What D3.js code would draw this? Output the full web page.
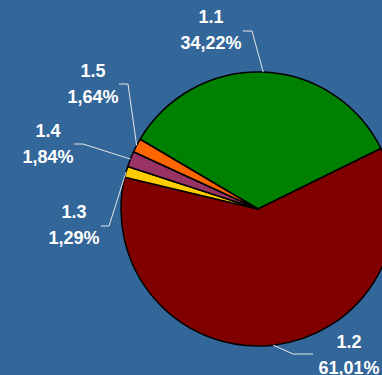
<!DOCTYPE html>
<html>
<head>
<meta charset="utf-8">
<script src="https://cdn.jsdelivr.net/npm/d3@7"></script>
<style>
  html, body { margin: 0; padding: 0; background: #336699; }
  svg { display: block; }
</style>
</head>
<body>
<svg id="chart" width="382" height="375"></svg>
<script>
// ---- data ----
const categories = ["1.1", "1.2", "1.3", "1.4", "1.5"];
const values = [34.22, 61.01, 1.29, 1.84, 1.64];
const colors = ["#008000", "#800000", "#FFCC00", "#993366", "#FF6600"];

// ---- layout (positions of labels and leader elbows) ----
const W = 382, H = 375;
const cx = 258, cy = 209, R = 137;
const startDeg = -59.4;
// label anchor: text center x, first-line baseline y; leader: label-side points
const labelLayout = [
  { x: 211, y: 23,  leader: [[243, 31], [252, 31]] },
  { x: 349, y: 348, leader: [[313, 354], [293, 354]] },
  { x: 74,  y: 218, leader: [[101, 226], [109, 226]] },
  { x: 48,  y: 137, leader: [[74, 144], [83, 144]] },
  { x: 93,  y: 77,  leader: [[119, 84], [128, 84]] }
];
const lineGap = 26;

const svg = d3.select("#chart");
svg.append("rect").attr("width", W).attr("height", H).attr("fill", "#336699");

const start = startDeg * Math.PI / 180;
const pie = d3.pie().sort(null).value(d => d.v)
  .startAngle(start).endAngle(start + 2 * Math.PI);
const data = categories.map((c, i) => ({ c, v: values[i], col: colors[i], i }));
const arcs = pie(data);

const arc = d3.arc().innerRadius(0).outerRadius(R);
const edge = d3.arc().innerRadius(R).outerRadius(R);

const g = svg.append("g").attr("transform", `translate(${cx},${cy})`);
g.selectAll("path.slice").data(arcs).join("path")
  .attr("class", "slice")
  .attr("d", arc)
  .attr("fill", d => d.data.col)
  .attr("stroke", "#000")
  .attr("stroke-width", 1.5)
  .attr("stroke-linejoin", "round");

const fmt = d3.formatLocale({ decimal: ",", thousands: ".", grouping: [3], currency: ["", "€"] }).format(".2f");

// leader lines
const line = d3.line();
svg.selectAll("path.leader").data(arcs).join("path")
  .attr("class", "leader")
  .attr("d", d => {
    const mid = (d.startAngle + d.endAngle) / 2;
    const p = [cx + R * Math.sin(mid), cy - R * Math.cos(mid)];
    const pts = labelLayout[d.data.i].leader.concat([p]);
    return line(pts);
  })
  .attr("fill", "none")
  .attr("stroke", "#E6E6E6")
  .attr("stroke-width", 1);

// labels
const lab = svg.selectAll("text.lab").data(arcs).join("text")
  .attr("class", "lab")
  .attr("text-anchor", "middle")
  .attr("font-family", "'Liberation Sans', Arial, sans-serif")
  .attr("font-weight", "bold")
  .attr("font-size", 18)
  .attr("fill", "#fff");
lab.append("tspan")
  .attr("x", d => labelLayout[d.data.i].x)
  .attr("y", d => labelLayout[d.data.i].y)
  .text(d => d.data.c);
lab.append("tspan")
  .attr("x", d => labelLayout[d.data.i].x)
  .attr("y", d => labelLayout[d.data.i].y + lineGap)
  .text(d => fmt(d.data.v) + "%");
</script>
</body>
</html>
